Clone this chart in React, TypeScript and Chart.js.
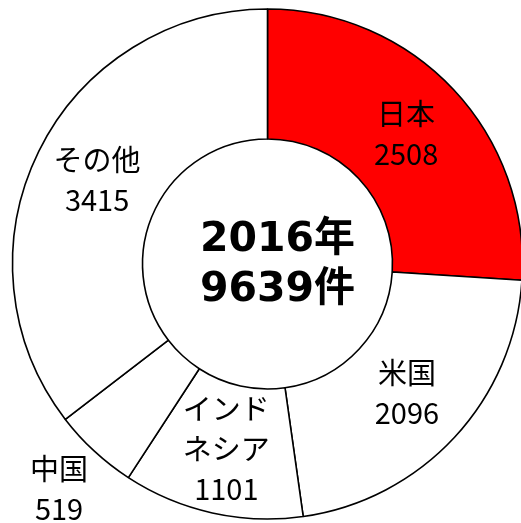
import React, { useEffect, useRef } from "react";
import { Chart, registerables } from "chart.js";

Chart.register(...registerables);

const categories = ["日本", "米国", "インドネシア", "中国", "その他"];
const labelLines = [["日本"], ["米国"], ["インド", "ネシア"], ["中国"], ["その他"]];
const values = [2508, 2096, 1101, 519, 3415];
const colors = ["#ff0000", "#ffffff", "#ffffff", "#ffffff", "#ffffff"];
const centerLines = ["2016年", "9639件"];
const outsideLabels = ["中国"];

const labelPlugin = {
  id: "sliceLabels",
  afterDatasetsDraw(chart: any) {
    const ctx = chart.ctx;
    const meta = chart.getDatasetMeta(0);
    ctx.save();
    ctx.fillStyle = "#000";
    ctx.textAlign = "center";
    ctx.textBaseline = "middle";
    ctx.font = '29px "Noto Sans CJK JP", sans-serif';
    meta.data.forEach((arc: any, i: number) => {
      const p = arc.getProps(["x", "y", "startAngle", "endAngle", "innerRadius", "outerRadius"], true);
      const mid = (p.startAngle + p.endAngle) / 2;
      const outside = outsideLabels.includes(categories[i]);
      const r = outside ? p.outerRadius + 52 : (p.innerRadius + p.outerRadius) / 2;
      const cx = p.x + Math.cos(mid) * r;
      const cy = p.y + Math.sin(mid) * r;
      const lines = [...labelLines[i], String(values[i])];
      const lh = 40;
      const top = cy - ((lines.length - 1) * lh) / 2;
      lines.forEach((t, k) => ctx.fillText(t, cx, top + k * lh));
    });
    const a = meta.data[0];
    ctx.font = 'bold 41px "DejaVu Sans", "Noto Sans CJK JP", sans-serif';
    ctx.fillText(centerLines[0], a.x + 10, a.y - 24);
    ctx.fillText(centerLines[1], a.x + 10, a.y + 26);
    ctx.restore();
  },
};

export default function App() {
  const ref = useRef<HTMLCanvasElement>(null);
  useEffect(() => {
    document.body.style.margin = "0";
    document.body.style.overflow = "hidden";
    const chart = new Chart(ref.current!, {
      type: "doughnut",
      data: {
        labels: categories,
        datasets: [
          {
            data: values,
            backgroundColor: colors,
            borderColor: "#000",
            borderWidth: 1.6,
          },
        ],
      },
      options: {
        responsive: false,
        animation: false,
        devicePixelRatio: 1,
        radius: 255,
        cutout: 129,
        layout: { padding: 0 },
        plugins: { legend: { display: false }, tooltip: { enabled: false } },
      },
      plugins: [labelPlugin],
    });
    return () => chart.destroy();
  }, []);
  return (
    <div style={{ position: "fixed", left: 0, top: 0, width: 521, height: 523, overflow: "hidden", background: "#fff" }}>
      <canvas ref={ref} width={535} height={528} style={{ display: "block" }} />
    </div>
  );
}
